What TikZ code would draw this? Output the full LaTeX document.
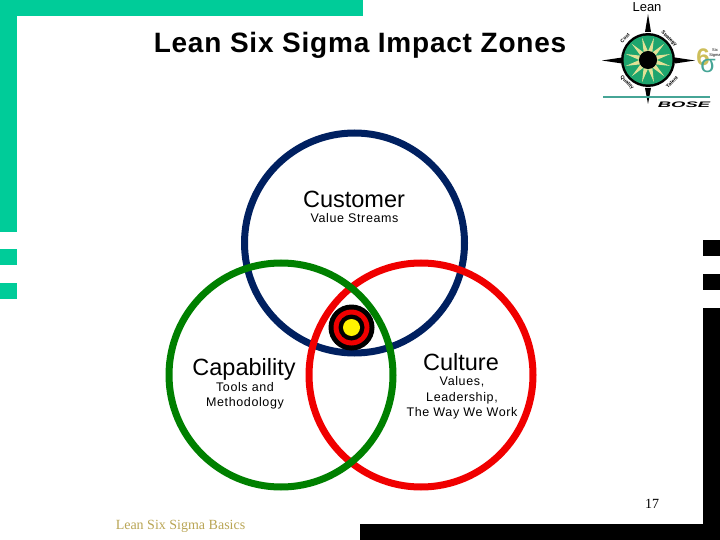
\documentclass[tikz,border=0pt]{standalone}
\usepackage{fontspec}
\setmainfont{Liberation Serif}
\setsansfont{Liberation Sans}
\definecolor{bargreen}{RGB}{0,204,153}
\definecolor{ringnavy}{RGB}{0,32,96}
\definecolor{ringgreen}{RGB}{0,128,0}
\definecolor{ringred}{RGB}{240,0,0}
\definecolor{logogreen}{RGB}{30,165,110}
\definecolor{logosun}{RGB}{225,225,150}
\definecolor{logoteal}{RGB}{70,165,150}
\definecolor{logogold}{RGB}{205,190,90}
\definecolor{footgold}{RGB}{185,165,85}
\begin{document}
\begin{tikzpicture}[x=1pt,y=-1pt,thick,
  big label/.style={font=\sffamily\fontsize{23.5}{25}\selectfont,text=black,inner sep=0pt},
  small label/.style={font=\sffamily\fontsize{12.5}{15.3}\selectfont\addfontfeature{LetterSpace=5},align=center,inner sep=0pt},
  logo label/.style={font=\sffamily\bfseries\fontsize{5}{6}\selectfont,inner sep=0pt},
  zone ring/.style={draw,line width=7pt,fill=none},
  bar/.style={fill=bargreen,draw=none},
  block/.style={fill=black,draw=none}]

  \useasboundingbox (0,0) rectangle (720,540);

  % bars
  \path[bar] (0,0) rectangle (363,16);
  \path[bar] (0,0) rectangle (17,232);
  \path[bar] (0,249) rectangle (17,265);
  \path[bar] (0,283) rectangle (17,299);
  \path[block] (703,240) rectangle (720,256);
  \path[block] (703,274) rectangle (720,290);
  \path[block] (703,308) rectangle (720,540);
  \path[block] (360,524) rectangle (720,540);

  \node[font=\sffamily\bfseries\fontsize{28}{30}\selectfont\addfontfeature{LetterSpace=2.8},inner sep=0pt] (title) at (360,45) {Lean Six Sigma Impact Zones};

  % rings
  \draw[zone ring,ringnavy] (354.5,243) circle (110);
  \draw[zone ring,ringred] (421,375) circle (112);
  \draw[zone ring,ringgreen] (281,375) circle (112);

  % target
  \fill[black] (351.5,327.5) circle (23);
  \fill[ringred] (351.5,327.5) circle (18);
  \fill[black] (351.5,327.5) circle (13);
  \fill[yellow] (351.5,327.5) circle (8.5);

  \node[big label] (customer) at (354,199) {Customer};
  \node[small label] (streams) at (354.5,218) {Value Streams};
  \node[big label] (capability) at (244,369) {Capability};
  \node[small label] (tools) at (245,396) {Tools and\\Methodology};
  \node[big label] (culture) at (461,362) {Culture};
  \node[small label] (values) at (462,398) {Values,\\Leadership,\\The Way We Work};

  \node[font=\rmfamily\fontsize{14}{16}\selectfont,inner sep=0pt] (page) at (652,504) {17};
  \node[font=\rmfamily\fontsize{14}{16}\selectfont,text=footgold,inner sep=0pt] (footer) at (180.5,526) {Lean Six Sigma Basics};

  % logo
  \node[font=\sffamily\fontsize{13}{14}\selectfont,inner sep=0pt] (lean) at (647,7) {Lean};
  \fill[black] (648,14) -- (651,32) -- (645,32) -- cycle;
  \fill[black] (648,104) -- (651,88) -- (645,88) -- cycle;
  \fill[black] (602,60.5) -- (622,57.5) -- (622,63.5) -- cycle;
  \fill[black] (695,60.5) -- (675,57.5) -- (675,63.5) -- cycle;
  \draw[logoteal,line width=1.6pt] (603,97) -- (710,97);
  \fill[black] (648,60) circle (27);
  \fill[logogreen] (648,60) circle (24.5);
  \begin{scope}[shift={(648,60)}]
    \foreach \a in {15,45,...,345}
      \fill[logosun] (\a:23) -- (\a+14:9) -- (\a-14:9) -- cycle;
  \end{scope}
  \fill[black] (648,60) circle (9);
  \node[logo label,rotate=45] (cost) at (625,38) {Cost};
  \node[logo label,rotate=-45] (strategy) at (669,39) {Strategy};
  \node[logo label,rotate=-45] (quality) at (627,83) {Quality};
  \node[logo label,rotate=45] (talent) at (672,82) {Talent};
  \node[font=\sffamily\bfseries\itshape\fontsize{8}{9}\selectfont,xscale=2.3,inner sep=0pt] (bose) at (684,105) {BOSE};
  \node[font=\sffamily\bfseries\fontsize{24}{24}\selectfont,text=logogold,inner sep=0pt] (six) at (703,57) {6};
  \node[font=\sffamily\fontsize{25}{25}\selectfont,text=logoteal,inner sep=0pt] (sigma) at (708,66) {\symbol{"03C3}};
  \node[font=\sffamily\fontsize{4}{4.5}\selectfont,align=center,inner sep=0pt] (sixname) at (715,53) {Six\\Sigma};
\end{tikzpicture}
\end{document}
